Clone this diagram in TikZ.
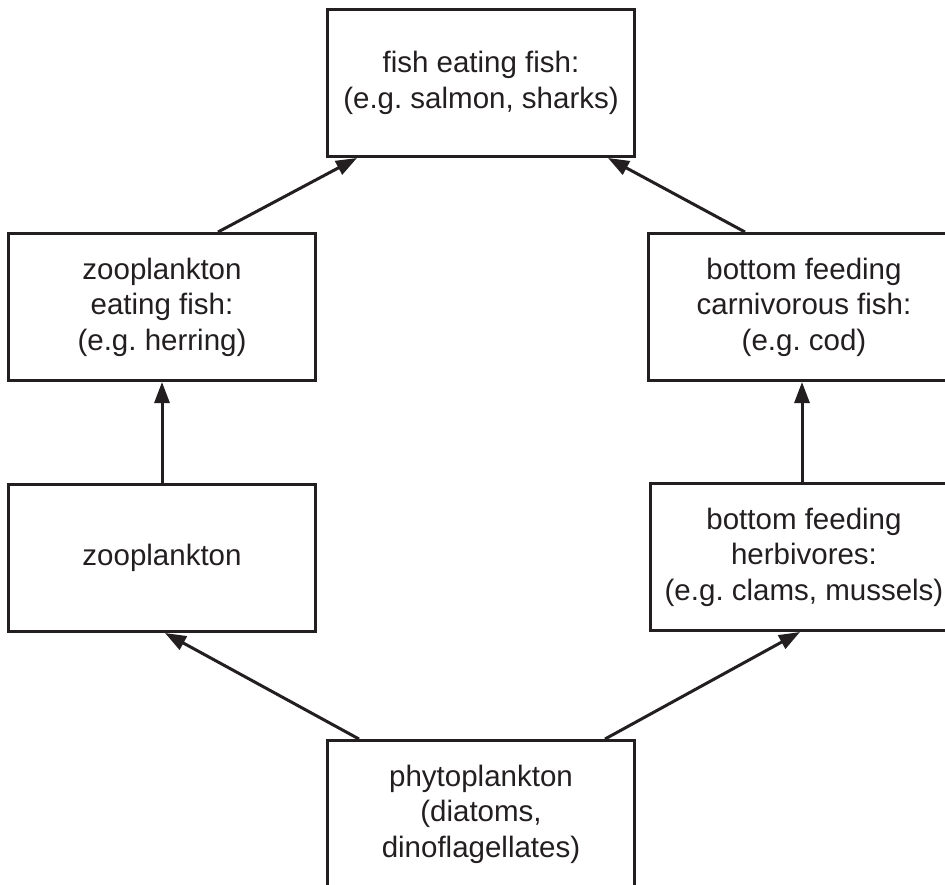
\documentclass[tikz,border=0pt]{standalone}
\usepackage{fontspec}
\setmainfont{Liberation Sans}
\usetikzlibrary{arrows.meta}
\definecolor{ink}{HTML}{231F20}
\tikzset{
  box/.style={draw=ink, line width=3pt, rectangle, minimum width=307pt, minimum height=147pt,
    inner sep=0pt, align=center, text=ink, font=\frenchspacing\fontsize{29.5}{35.5}\selectfont},
  wbox/.style={box, minimum width=311pt},
  arr/.style={draw=ink, line width=3pt, -{Triangle[length=21pt,width=15pt]}}
}
\begin{document}
\begin{tikzpicture}[x=1pt,y=-1pt]
\useasboundingbox (0,0) rectangle (945,884);
\fill[white] (0,0) rectangle (945,884);
\clip (0,0) rectangle (945,884);
\node[box] (top)   at (481,83)  {fish eating fish:\\(e.g. salmon, sharks)};
\node[box] (zf)    at (162,307) {zooplankton\\eating fish:\\(e.g. herring)};
\node[wbox] (cf)   at (804,307) {bottom feeding\\carnivorous fish:\\(e.g. cod)};
\node[box] (zoo)   at (162,558) {zooplankton};
\node[box] (herb)  at (804,557) {bottom feeding\\herbivores:\\(e.g. clams, mussels)};
\node[box] (phyto) at (481,814) {phytoplankton\\(diatoms,\\dinoflagellates)};
\draw[arr] (zoo.north) -- (zf.south);
\draw[arr] ([xshift=-2pt]herb.north) -- ([xshift=-2pt]cf.south);
\draw[arr] ([xshift=56pt]zf.north) -- ([xshift=-124pt]top.south);
\draw[arr] ([xshift=-59pt]cf.north) -- ([xshift=127pt]top.south);
\draw[arr] ([xshift=-122pt]phyto.north) -- ([xshift=3pt]zoo.south);
\draw[arr] ([xshift=124pt]phyto.north) -- ([xshift=-4pt]herb.south);
\end{tikzpicture}
\end{document}
